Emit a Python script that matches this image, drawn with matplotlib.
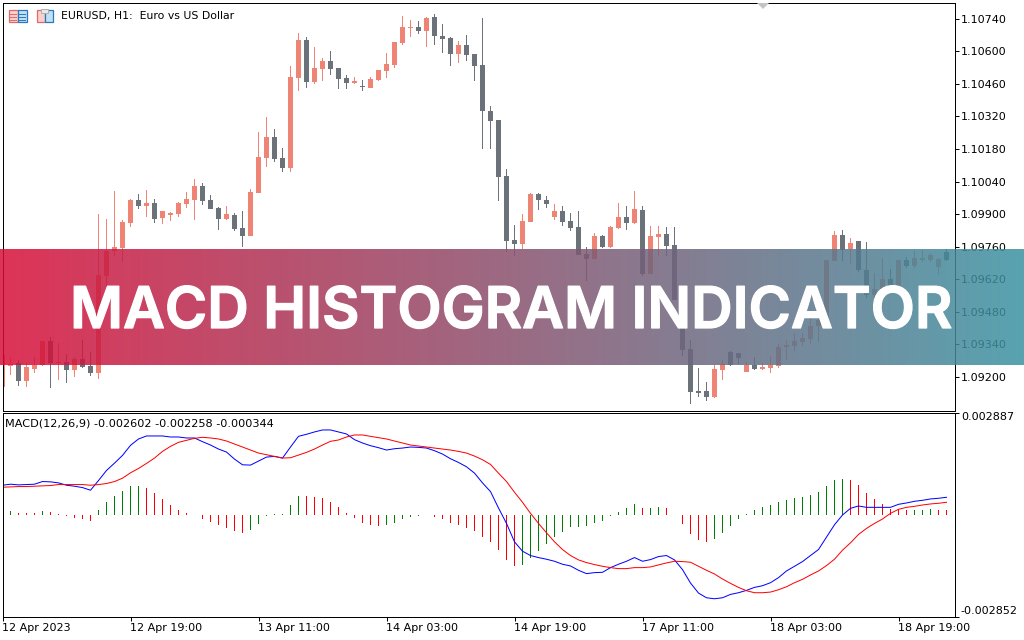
"""EURUSD H1 chart with MACD pane and the banner across it."""
import matplotlib
matplotlib.use("Agg")
import matplotlib.pyplot as plt
import matplotlib.patheffects as pe
from matplotlib.colors import LinearSegmentedColormap
from matplotlib.patches import Polygon, Rectangle
import numpy as np

# prices in 1e-5 units, one entry per H1 bar
opens = [109157, 109247, 109260, 109182, 109234, 109251, 109354, 109260, 109264, 109230,
         109277, 109247, 109217, 109634, 109741, 109754, 109862, 109961, 109935, 109948,
         109883, 109896, 109901, 109944, 109961, 110021, 109961, 109926, 109879, 109896,
         109840, 109806, 109991, 110141, 110232, 110141, 110098, 110486, 110649, 110468,
         110524, 110559, 110529, 110486, 110464, 110451, 110443, 110477, 110516, 110541,
         110636, 110701, 110705, 110688, 110748, 110666, 110658, 110589, 110627, 110589,
         110541, 110344, 110305, 110064, 109789, 109771, 109866, 109987, 109961, 109888,
         109913, 109870, 109845, 109729, 109707, 109806, 109759, 109840, 109888, 109862,
         109918, 109643, 109802, 109815, 109767, 109531, 109320, 109139, 109139, 109113,
         109230, 109307, 109303, 109221, 109251, 109234, 109238, 109247, 109329, 109333,
         109350, 109363, 109419, 109445, 109698, 109810, 109750, 109784, 109660, 109552,
         109578, 109621, 109582, 109703, 109677, 109703, 109703, 109673, 109737]
highs = [109294, 109286, 109273, 109260, 109286, 109354, 109372, 109346, 109298, 109286,
         109359, 109307, 109901, 109879, 110000, 109875, 109965, 109987, 110004, 109965,
         109913, 109909, 109952, 109995, 110051, 110034, 109982, 109931, 109935, 109905,
         109913, 110008, 110253, 110318, 110266, 110184, 110537, 110679, 110662, 110619,
         110572, 110602, 110529, 110498, 110490, 110477, 110490, 110520, 110593, 110640,
         110752, 110735, 110731, 110748, 110761, 110718, 110662, 110645, 110670, 110589,
         110744, 110365, 110305, 110094, 109853, 109901, 109991, 109991, 109978, 109944,
         109935, 109905, 109913, 109759, 109819, 109810, 109849, 109948, 109935, 110000,
         109935, 109849, 109849, 109845, 109845, 109535, 109359, 109238, 109178, 109251,
         109273, 109311, 109303, 109264, 109286, 109260, 109290, 109341, 109359, 109389,
         109389, 109488, 109488, 109703, 109828, 109832, 109797, 109784, 109780, 109647,
         109711, 109664, 109703, 109716, 109741, 109746, 109733, 109711, 109750]
lows = [109157, 109208, 109161, 109157, 109217, 109247, 109152, 109187, 109174, 109200,
        109238, 109204, 109191, 109587, 109720, 109694, 109845, 109922, 109888, 109862,
        109858, 109870, 109888, 109926, 109875, 109939, 109922, 109832, 109875, 109828,
        109759, 109806, 109991, 110103, 110124, 110081, 110081, 110430, 110443, 110460,
        110473, 110498, 110438, 110438, 110460, 110430, 110443, 110473, 110486, 110529,
        110627, 110662, 110675, 110619, 110627, 110593, 110537, 110550, 110559, 110473,
        110180, 110180, 109957, 109737, 109720, 109750, 109866, 109918, 109926, 109875,
        109849, 109828, 109724, 109612, 109707, 109754, 109754, 109836, 109832, 109858,
        109634, 109643, 109720, 109720, 109531, 109290, 109083, 109113, 109096, 109109,
        109187, 109247, 109255, 109221, 109230, 109230, 109217, 109238, 109273, 109311,
        109333, 109341, 109350, 109445, 109698, 109698, 109686, 109651, 109539, 109539,
        109526, 109574, 109582, 109668, 109668, 109694, 109694, 109638, 109698]
closes = [109294, 109255, 109182, 109242, 109251, 109354, 109260, 109264, 109230, 109277,
          109242, 109217, 109638, 109741, 109759, 109866, 109961, 109935, 109948, 109879,
          109913, 109905, 109948, 109965, 110021, 109957, 109922, 109879, 109901, 109836,
          109806, 109995, 110146, 110232, 110137, 110098, 110490, 110649, 110468, 110529,
          110559, 110524, 110481, 110464, 110473, 110447, 110481, 110520, 110546, 110640,
          110705, 110705, 110688, 110744, 110666, 110653, 110589, 110627, 110584, 110537,
          110344, 110301, 110060, 109784, 109771, 109870, 109987, 109961, 109944, 109913,
          109866, 109840, 109724, 109707, 109806, 109759, 109845, 109888, 109862, 109922,
          109643, 109806, 109815, 109763, 109531, 109316, 109135, 109131, 109113, 109234,
          109255, 109251, 109281, 109251, 109234, 109242, 109251, 109329, 109337, 109354,
          109367, 109419, 109445, 109703, 109810, 109746, 109776, 109660, 109552, 109578,
          109621, 109582, 109703, 109677, 109711, 109711, 109724, 109707, 109703]

# MACD pane in 1e-6 units
macd_line = [841, 870, 851, 860, 870, 945, 936, 907, 841, 813,
             775, 700, 973, 1256, 1463, 1680, 1963, 2142, 2227, 2227,
             2227, 2198, 2198, 2170, 2170, 2066, 1972, 1859, 1774, 1576,
             1416, 1407, 1520, 1633, 1652, 1605, 1916, 2217, 2274, 2340,
             2396, 2396, 2340, 2283, 2123, 2029, 1953, 1897, 1831, 1868,
             1887, 1916, 1906, 1887, 1812, 1718, 1586, 1482, 1360, 1181,
             907, 662, 201, -233, -751, -1015, -1137, -1194, -1241, -1298,
             -1382, -1430, -1552, -1646, -1618, -1609, -1477, -1382, -1298, -1194,
             -1298, -1251, -1166, -1137, -1260, -1533, -1910, -2193, -2325, -2353,
             -2325, -2231, -2183, -2117, -2033, -1986, -1901, -1759, -1571, -1439,
             -1307, -1137, -968, -619, -271, 3, 191, 257, 219, 219,
             219, 219, 304, 342, 389, 417, 455, 474, 502]
signal_line = [785, 794, 804, 804, 813, 823, 832, 860, 860, 860,
               860, 841, 860, 889, 945, 1039, 1190, 1313, 1454, 1605,
               1793, 1934, 2048, 2104, 2161, 2189, 2170, 2142, 2085, 2000,
               1916, 1831, 1746, 1699, 1652, 1605, 1614, 1689, 1765, 1859,
               1972, 2076, 2114, 2198, 2255, 2255, 2217, 2179, 2142, 2085,
               2029, 1972, 1944, 1916, 1887, 1859, 1831, 1793, 1746, 1661,
               1558, 1426, 1181, 945, 644, 361, 50, -233, -497, -751,
               -968, -1137, -1260, -1335, -1392, -1439, -1477, -1505, -1505, -1477,
               -1477, -1458, -1401, -1345, -1298, -1307, -1326, -1439, -1552, -1656,
               -1797, -1920, -2033, -2127, -2183, -2183, -2165, -2099, -2015, -1901,
               -1806, -1684, -1571, -1420, -1241, -987, -779, -544, -374, -233,
               -110, 50, 163, 219, 248, 285, 314, 333, 361]
hist = [0, 122, 65, 65, 65, 122, 93, 37, -28, -85,
        -99, -161, 150, 376, 546, 687, 828, 828, 772, 630,
        461, 291, 150, 65, 0, -99, -190, -274, -359, -444,
        -500, -416, -246, -28, 28, 28, 291, 546, 546, 517,
        489, 376, 235, 57, -85, -226, -283, -311, -283, -226,
        -113, -57, -28, 0, -42, -113, -226, -283, -368, -452,
        -622, -763, -989, -1272, -1442, -1414, -1216, -1018, -820, -622,
        -481, -339, -339, -311, -226, -170, -28, 85, 198, 311,
        198, 198, 226, 198, 0, -254, -537, -707, -763, -678,
        -509, -311, -113, 28, 141, 226, 283, 368, 424, 481,
        509, 565, 650, 820, 989, 1018, 989, 848, 622, 452,
        311, 170, 170, 141, 141, 141, 170, 141, 141]
hist_colors = ("r" + "g" + "rrr" + "g" + "rrrrrr" + "gggggg" + "rrrrrr" + "r" + "rrrrrr"
               + "ggggggg" + "rrrrrrrrrr" + "ggggg" + "rrrrrrrrrrrr"
               + "ggggggggggggggg" + "r" + "gg" + "r" + "r" + "rrrr"
               + "ggggggggggggggggg" + "rrrrrrrr" + "ggg" + "rr")

price_ticks = [1.09200, 1.09340, 1.09480, 1.09620, 1.09760, 1.09900,
               1.10040, 1.10180, 1.10320, 1.10460, 1.10600, 1.10740]
time_labels = ["12 Apr 2023", "12 Apr 19:00", "13 Apr 11:00", "14 Apr 03:00",
               "14 Apr 19:00", "17 Apr 11:00", "18 Apr 03:00", "18 Apr 19:00"]
time_ticks = [0, 16, 32, 48, 64, 80, 96, 112]

UP = "#f08474"
DOWN = "#6b7279"
W, H = 1024, 640
plt.rcParams["font.family"] = ["DejaVu Sans"]


def px_axes(fig, left, top, right, bottom, **kw):
    return fig.add_axes([left / W, 1 - bottom / H, (right - left) / W, (bottom - top) / H], **kw)


fig = plt.figure(figsize=(W / 100, H / 100), dpi=100, facecolor="white")
ax = px_axes(fig, 2.5, 2.5, 954.5, 410.5)
ax2 = px_axes(fig, 2.5, 412.5, 954.5, 616.5)

x = np.arange(len(opens))
o, h, l, c = [np.array(a) / 1e5 for a in (opens, highs, lows, closes)]
colors = [UP if cc >= oo else DOWN for oo, cc in zip(o, c)]

# wicks are 1 px wide bars, each bar slot is 8 px
ax.bar(x, h - l, 0.125, l, color=colors, lw=0)
ax.bar(x, np.abs(c - o), 0.625, np.minimum(o, c), color=colors, lw=0)
ax.set_xlim(0, 119)
ax.set_ylim(1.09055, 1.10810)
ax.set_yticks(price_ticks, [f"{p:.5f}" for p in price_ticks])
ax.set_xticks([])
ax.yaxis.tick_right()
ax.tick_params(axis="y", length=3, width=0.72, pad=1.5, labelsize=8)
ax.text(0.0615, 0.9675, "EURUSD, H1:  Euro vs US Dollar", fontsize=7.8, va="center", color="black",
        transform=ax.transAxes)

line_colors = {"r": "#ff0000", "g": "#008000"}
ax2.bar(x, np.array(hist) / 1e6, 0.125, color=[line_colors[k] for k in hist_colors], lw=0)
ax2.plot(x, np.array(macd_line) / 1e6, color="#0000ff", lw=0.72)
ax2.plot(x, np.array(signal_line) / 1e6, color="#ff0000", lw=0.72)
ax2.set_xlim(0, 119)
ax2.set_ylim(-0.002852, 0.002887)
ax2.set_yticks([-0.002852, 0.002887], ["-0.002852", "0.002887"])
ax2.yaxis.tick_right()
ax2.tick_params(axis="y", length=3, width=0.72, pad=1.5, labelsize=8)
ylab = ax2.get_yticklabels()
ylab[0].set_va("bottom")
ylab[1].set_va("top")
ax2.set_xticks(time_ticks, time_labels, ha="left")
ax2.tick_params(axis="x", length=3, width=0.72, pad=2, labelsize=8)
ax2.text(0.003, 0.948, "MACD(12,26,9) -0.002602 -0.002258 -0.000344", fontsize=8.1, va="center",
         transform=ax2.transAxes)

for a in (ax, ax2):
    for s in a.spines.values():
        s.set_linewidth(0.72)

# overlay in pixel coordinates: toolbar icons, scroll marker, banner
top = fig.add_axes([0, 0, 1, 1], zorder=10, facecolor="none")
for left, wid, ec, fc in ((8.5, 9, "#e06a6a", "#fbd0cc"), (17.5, 9, "#2b78b8", "#bfe0f5"),
                          (36.5, 8, "#e06a6a", "#fbd0cc"), (44.5, 8, "#2b78b8", "#bfe0f5")):
    top.add_patch(Rectangle((left, 9.5), wid, 12, fc=fc, ec=ec, lw=0.9))
for yy in (13.5, 16.5, 19.5):
    top.plot([9.5, 16], [yy, yy], color="#e06a6a", lw=0.7)
    top.plot([18.5, 25], [yy, yy], color="#2b78b8", lw=0.7)
top.add_patch(Rectangle((41, 8.5), 7, 4, fc="#e8e8e8", ec="#b0b0b0", lw=0.7))
top.add_patch(Polygon([(757, 3), (769, 3), (763, 9)], fc="#c4c4c8", ec="none"))

cmap = LinearSegmentedColormap.from_list("banner", ["#d80e38", "#3a92a2"], N=1024)
top.imshow(np.linspace(0, 1, 1024).reshape(1, -1), cmap=cmap, extent=(0, W, 365, 249),
           aspect="auto", alpha=0.85, zorder=5, interpolation="nearest")
top.set_xlim(0, W)
top.set_ylim(H, 0)
top.axis("off")
top.text(70, 328, "MACD HISTOGRAM INDICATOR", color="white", fontsize=41.4, family="Inter",
         weight=600, ha="left", va="baseline", zorder=6, fontstretch="expanded",
         path_effects=[pe.withStroke(linewidth=0.9, foreground="white")])

fig.savefig("out.png", dpi=100)
